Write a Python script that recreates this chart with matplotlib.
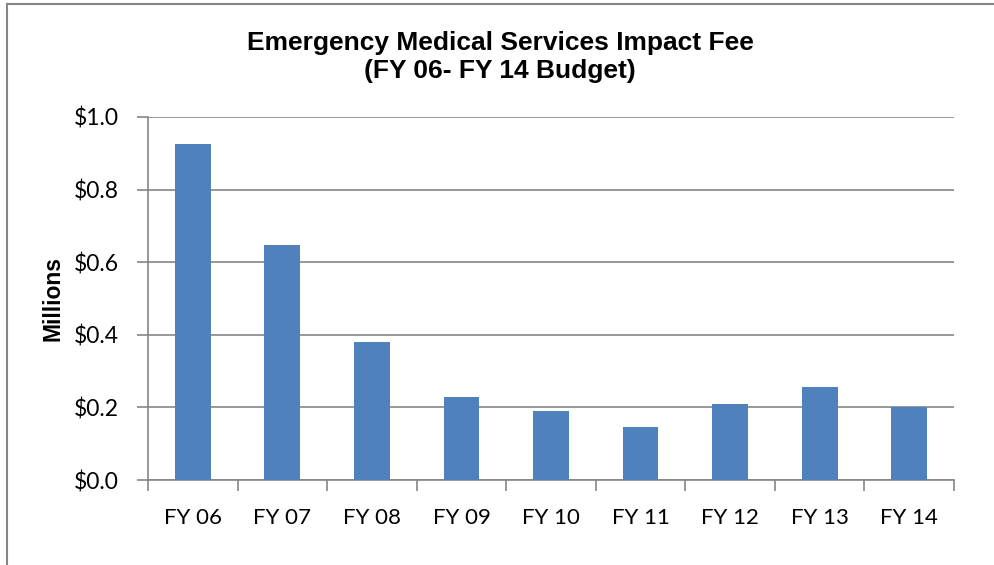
import matplotlib.pyplot as plt
from matplotlib.patches import Rectangle

years = ['FY 06', 'FY 07', 'FY 08', 'FY 09', 'FY 10', 'FY 11', 'FY 12', 'FY 13', 'FY 14']
fee = [0.926, 0.647, 0.380, 0.229, 0.190, 0.146, 0.209, 0.255, 0.200]
yticks = [0.0, 0.2, 0.4, 0.6, 0.8, 1.0]

grey = '#868686'

fig = plt.figure(figsize=(9.94, 5.65), dpi=100)
ax = fig.add_axes([148 / 994, 1 - 480 / 565, (954 - 148) / 994, 363 / 565])

x = range(len(years))
ax.bar(x, fee, width=0.4, color='#4F81BD', zorder=3)

ax.set_xlim(-0.5, len(years) - 0.5)
ax.set_ylim(0, 1.0)
ax.set_yticks(yticks)
ax.set_yticklabels(['$%.1f' % v for v in yticks], family='Lato', fontsize=16.5)
ax.set_xticks(list(x))
ax.set_xticklabels(years, family='Lato', fontsize=16)
# boundary ticks between categories
ax.set_xticks([i - 0.5 for i in range(len(years) + 1)], minor=True)
ax.tick_params(axis='x', which='major', length=0, pad=20)
ax.tick_params(axis='x', which='minor', length=8, color=grey, width=1.2)
ax.tick_params(axis='y', length=8, color=grey, width=1.2, pad=13)

ax.grid(axis='y', color=grey, linewidth=1.2, zorder=0)
for s in ['top', 'right']:
    ax.spines[s].set_visible(False)
for s in ['left', 'bottom']:
    ax.spines[s].set_color(grey)
    ax.spines[s].set_linewidth(1.2)

ax.set_ylabel('Millions', family='Liberation Sans', fontweight='bold', fontsize=16.5, labelpad=6.5)

fig.text(0.503, 1 - 57 / 565, 'Emergency Medical Services Impact Fee\n(FY 06- FY 14 Budget)',
         ha='center', va='center', family='Liberation Sans', fontweight='bold',
         fontsize=19, linespacing=1.2)

# outer chart border (runs off the right and bottom edges)
fig.patches.append(Rectangle((7 / 994, -0.1), 1.2, 1 - 4 / 565 + 0.1, transform=fig.transFigure,
                             fill=False, edgecolor=grey, linewidth=1.5))

fig.savefig('out.png', dpi=100)
